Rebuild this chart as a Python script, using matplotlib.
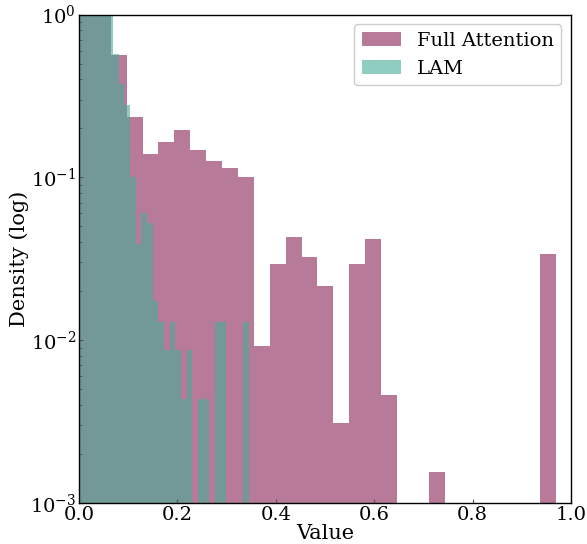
import numpy as np
import matplotlib
matplotlib.use("Agg")
import matplotlib.pyplot as plt

# ---- data (density per bin) ----
full_range = (0.0, 0.9695)
full_density = [25.0, 3.9, 0.564, 0.236, 0.140, 0.165, 0.195, 0.147, 0.126, 0.114,
                0.1005, 0.00922, 0.0294, 0.0430, 0.0325, 0.0215, 0.00311, 0.0294, 0.0418, 0.00461,
                0.0, 0.0, 0.00155, 0.0, 0.0, 0.0, 0.0, 0.0, 0.0, 0.0339]

lam_range = (0.0, 0.3455)
lam_density = [30.0, 22.0, 15.0, 10.0, 5.5, 2.6, 0.572, 0.374, 0.278, 0.1006,
               0.0390, 0.0602, 0.0523, 0.01736, 0.01296, 0.00873, 0.01296, 0.00873, 0.00434, 0.00873,
               0.0, 0.00434, 0.00434, 0.0, 0.01296, 0.01296, 0.0, 0.0, 0.0, 0.01296]

labels = ["Full Attention", "LAM"]
colors = ["#872155", "#44ad96"]

plt.rcParams["font.family"] = ["DejaVu Serif"]
plt.rcParams["mathtext.fontset"] = "dejavuserif"

fig = plt.figure(figsize=(5.87, 5.44), dpi=100)
ax = fig.add_axes([79 / 587, 1 - 503 / 544, (571 - 79) / 587, (503 - 14.5) / 544])

for rng, dens, lab, col in [(full_range, full_density, labels[0], colors[0]),
                            (lam_range, lam_density, labels[1], colors[1])]:
    edges = np.linspace(rng[0], rng[1], len(dens) + 1)
    ax.hist(edges[:-1], bins=edges, weights=dens, color=col, alpha=0.6, label=lab)

ax.set_yscale("log")
ax.set_xlim(0, 1)
ax.set_ylim(1e-3, 1)
ax.set_xlabel("Value", fontsize=15, labelpad=0)
ax.set_ylabel("Density (log)", fontsize=15, labelpad=1)
ax.tick_params(axis="both", which="both", direction="in", labelsize=14, color="#555555")
ax.tick_params(axis="both", which="major", length=3, pad=2)
ax.tick_params(axis="both", which="minor", length=2)
for s in ax.spines.values():
    s.set_color("black")
    s.set_linewidth(1.0)

ax.legend(loc="upper right", fontsize=14, frameon=True, fancybox=True,
          edgecolor="#cccccc", framealpha=1.0)

fig.savefig("out.png", dpi=100)
